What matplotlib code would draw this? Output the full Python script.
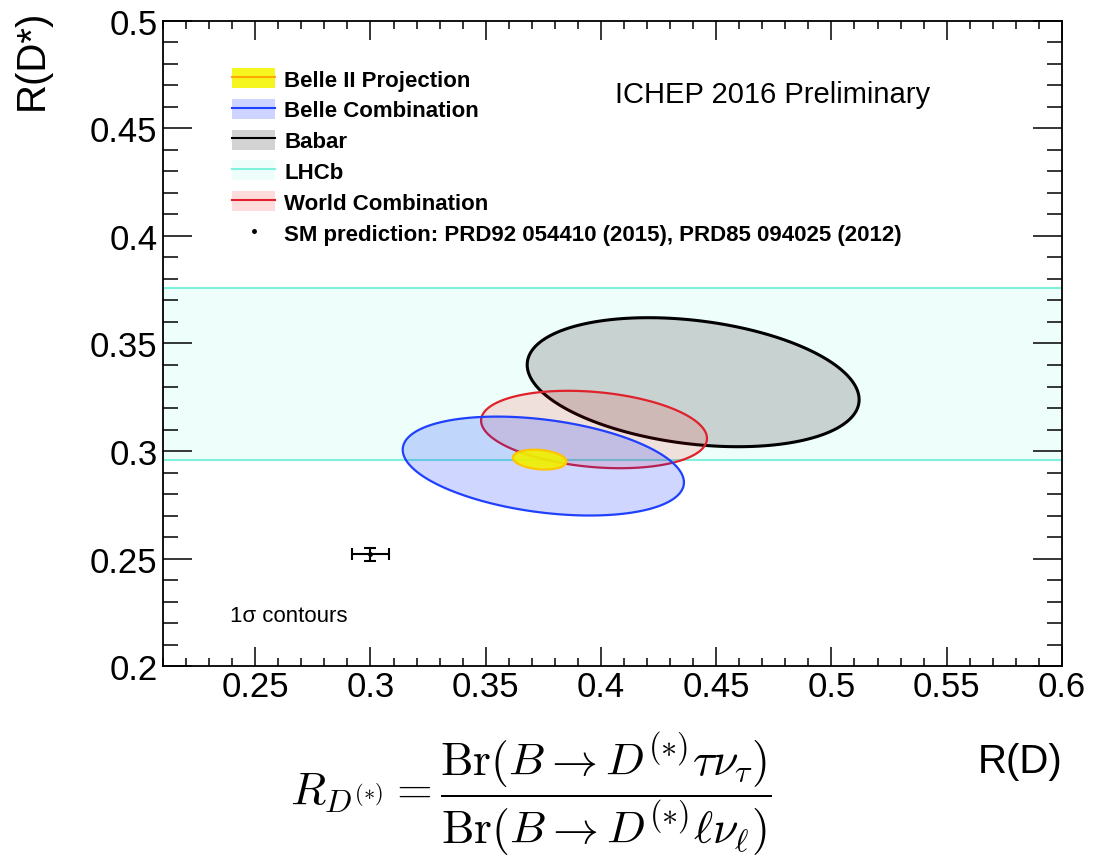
import numpy as np
import matplotlib
matplotlib.use("Agg")
import matplotlib.pyplot as plt
from matplotlib.patches import Patch, Polygon
from matplotlib.lines import Line2D
from matplotlib.ticker import MultipleLocator, FixedLocator, FixedFormatter

plt.rcParams['font.family'] = ['Liberation Sans', 'DejaVu Sans']

# Measurements: (R(D), sigma, R(D*), sigma, correlation)
babar = (0.440, 0.072, 0.332, 0.030, -0.27)
belle = (0.375, 0.061, 0.293, 0.023, -0.33)
world = (0.397, 0.049, 0.310, 0.018, -0.23)
belle2 = (0.3734, 0.0116, 0.2960, 0.0046, -0.20)

# LHCb measures only R(D*)
lhcb_rdst = 0.336
lhcb_sigma = 0.040

# Standard Model prediction
sm_rd, sm_rd_err = 0.300, 0.008
sm_rdst, sm_rdst_err = 0.252, 0.003

x_ticks = [0.25, 0.30, 0.35, 0.40, 0.45, 0.50, 0.55, 0.60]
x_labels = ["0.25", "0.3", "0.35", "0.4", "0.45", "0.5", "0.55", "0.6"]
y_ticks = [0.20, 0.25, 0.30, 0.35, 0.40, 0.45, 0.50]
y_labels = ["0.2", "0.25", "0.3", "0.35", "0.4", "0.45", "0.5"]

legend_labels = ["Belle II Projection", "Belle Combination", "Babar", "LHCb",
                 "World Combination",
                 "SM prediction: PRD92 054410 (2015), PRD85 094025 (2012)"]


def contour(m, n=400):
    cx, sx, cy, sy, rho = m
    t = np.linspace(0, 2 * np.pi, n, endpoint=False)
    x = cx + sx * np.cos(t)
    y = cy + sy * (rho * np.cos(t) + np.sqrt(1 - rho ** 2) * np.sin(t))
    return np.column_stack([x, y])


fig = plt.figure(figsize=(10.94, 8.62), dpi=100)
ax = fig.add_axes([0.149, 0.2262, 0.8217, 0.7483])
ax.set_xlim(0.21, 0.60)
ax.set_ylim(0.20, 0.50)

# LHCb band
band_lo = lhcb_rdst - lhcb_sigma
band_hi = lhcb_rdst + lhcb_sigma
band_fill = '#eefffb'
band_line = '#7ff0dc'
ax.axhspan(band_lo, band_hi, facecolor=band_fill, edgecolor='none', zorder=1)
ax.axhline(band_lo, color=band_line, lw=1.5, zorder=1.5)
ax.axhline(band_hi, color=band_line, lw=1.5, zorder=1.5)

styles = [
    (babar, '#808080', 0.34, 'black', 2.2, 2),
    (world, '#ff0000', 0.12, '#e0202a', 1.6, 3),
    (belle, '#0028ff', 0.19, '#2040ff', 1.6, 4),
    (belle2, '#f0f000', 0.92, '#ffc400', 1.6, 5),
]
for m, fc, a, ec, lw, z in styles:
    pts = contour(m)
    ax.add_patch(Polygon(pts, closed=True, facecolor=fc, alpha=a,
                         edgecolor='none', zorder=z))
    ax.add_patch(Polygon(pts, closed=True, fill=False, edgecolor=ec,
                         lw=lw, joinstyle='round', zorder=z + 0.1))

ax.errorbar([sm_rd], [sm_rdst], xerr=[sm_rd_err], yerr=[sm_rdst_err],
            fmt='o', ms=2.5, color='black', ecolor='black', elinewidth=1.5,
            capsize=4.5, capthick=1.5, zorder=6)

# Axes, ticks
for s in ax.spines.values():
    s.set_linewidth(1.3)
    s.set_zorder(10)
ax.xaxis.set_major_locator(FixedLocator(x_ticks))
ax.xaxis.set_major_formatter(FixedFormatter(x_labels))
ax.yaxis.set_major_locator(FixedLocator(y_ticks))
ax.yaxis.set_major_formatter(FixedFormatter(y_labels))
ax.xaxis.set_minor_locator(MultipleLocator(0.01))
ax.yaxis.set_minor_locator(MultipleLocator(0.01))
ax.tick_params(which='both', direction='in', top=True, right=True, width=1.1,
               labelsize=25)
ax.tick_params(axis='x', which='major', length=13.5, pad=3)
ax.tick_params(axis='x', which='minor', length=5.5)
ax.tick_params(axis='y', which='major', length=21, pad=4)
ax.tick_params(axis='y', which='minor', length=10.5)

# Legend
handles = [
    (Patch(facecolor='#f5f520', edgecolor='none'), Line2D([], [], color='#ffa800', lw=1.5)),
    (Patch(facecolor='#0028ff', alpha=0.2, edgecolor='none'), Line2D([], [], color='#2040ff', lw=1.5)),
    (Patch(facecolor='#808080', alpha=0.34, edgecolor='none'), Line2D([], [], color='black', lw=1.5)),
    (Patch(facecolor=band_fill, edgecolor='none'), Line2D([], [], color=band_line, lw=1.5)),
    (Patch(facecolor='#ff0000', alpha=0.14, edgecolor='none'), Line2D([], [], color='#e0202a', lw=1.5)),
    Line2D([], [], marker='o', ms=2.5, color='black', linestyle='none'),
]
leg = ax.legend(handles, legend_labels, loc='upper left',
                bbox_to_anchor=(0.0768, 0.927), frameon=False,
                prop={'weight': 'bold', 'size': 16},
                handlelength=1.95, handleheight=1.0, handletextpad=0.4,
                labelspacing=0.37, borderpad=0, borderaxespad=0)
leg.set_zorder(20)

fig.text(615 / 1094, 1 - 103 / 862, "ICHEP 2016 Preliminary", fontsize=21,
         ha='left', va='baseline')
fig.text(230 / 1094, 1 - 622 / 862, "1σ contours", fontsize=16,
         ha='left', va='baseline')

fig.text(32 / 1094, 1 - 60 / 862, "R(D*)", fontsize=29, rotation=90,
         ha='center', va='center')
fig.text(1020 / 1094, 1 - 762 / 862, "R(D)", fontsize=29,
         ha='center', va='center')

fig.text(531 / 1094, 1 - 795 / 862,
         r'$R_{D^{(*)}} = \dfrac{\mathrm{Br}(B \rightarrow D^{(*)}\tau\nu_\tau)}'
         r'{\mathrm{Br}(B \rightarrow D^{(*)}\ell\nu_\ell)}$',
         fontsize=33, math_fontfamily='cm', ha='center', va='center')

fig.savefig('out.png', dpi=100)
